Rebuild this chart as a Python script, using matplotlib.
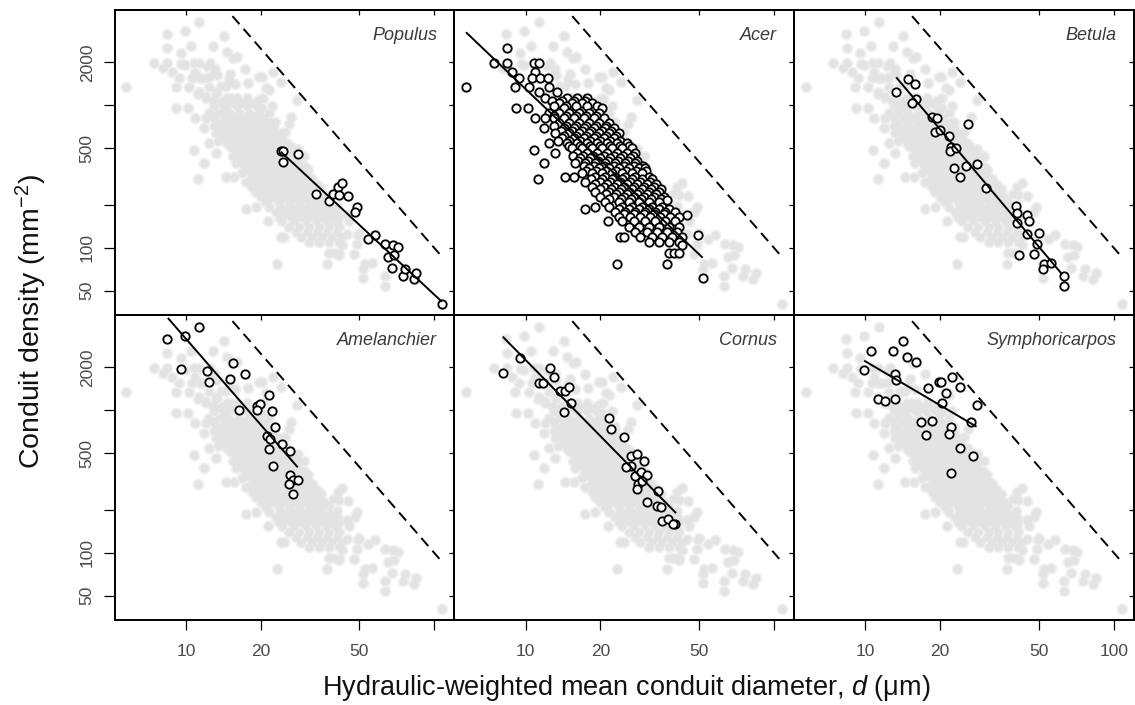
import matplotlib
matplotlib.use("Agg")
import matplotlib.pyplot as plt
from matplotlib.ticker import NullLocator
import numpy as np

plt.rcParams['font.family'] = ['Liberation Sans', 'DejaVu Sans']
plt.rcParams['mathtext.fontset'] = 'custom'
plt.rcParams['mathtext.rm'] = 'Liberation Sans'
plt.rcParams['mathtext.it'] = 'Liberation Sans:italic'

# ---------------- data (d in um, conduit density in mm^-2) ----------------
species = ["Populus", "Acer", "Betula", "Amelanchier", "Cornus", "Symphoricarpos"]

populus_d = [24.1, 24.7, 24.6, 28.2, 33.3, 37.6, 39.3, 40.8, 42.6, 41.3, 44.9, 48.8, 47.8,
             54.1, 57.9, 63.5, 68.2, 71.4, 65.1, 69.2, 67.5, 75.2, 76.4, 82.6, 84.4, 108]
populus_rho = [480, 475, 398, 453, 239, 212, 239, 269, 287, 235, 231, 192, 179,
               115, 123, 106, 104, 101, 86.8, 89.1, 72.6, 63.8, 70.7, 60.8, 67.0, 40.4]

betula_d = [13.25, 14.85, 15.8, 15.95, 15.4, 18.56, 19.4, 19.0, 19.9, 21.7, 22.2, 21.9, 23.1,
            25.9, 25.3, 28.0, 22.7, 24.0, 30.7, 40.5, 40.9, 40.7, 44.9, 45.5, 44.6, 49.9,
            49.0, 47.6, 41.4, 52.4, 56.1, 51.9, 63.1, 63.1]
betula_rho = [1245, 1537, 1409, 1100, 1031, 823, 810, 653, 671, 612, 513, 480, 499,
              735, 377, 389, 361, 314, 261, 197, 175, 149, 170, 153, 126, 128,
              106, 90.6, 88.6, 76.6, 77.9, 70.7, 63.5, 54.3]

amelanchier_d = [8.36, 9.88, 11.3, 9.58, 12.2, 12.4, 15.5, 15.1, 17.3, 16.3, 21.6, 19.3, 19.9,
                 19.3, 22.3, 22.8, 21.2, 21.9, 21.7, 24.4, 26.2, 22.4, 26.2, 27.0, 28.4, 26.0, 27.0]
amelanchier_rho = [3144, 3299, 3836, 1957, 1885, 1587, 2145, 1657, 1796, 1004, 1286, 1077, 1107,
                   1004, 983, 759, 663, 629, 538, 580, 518, 407, 353, 326, 326, 302, 260]

cornus_d = [8.08, 9.52, 11.35, 11.7, 12.5, 12.97, 13.8, 14.45, 14.9, 15.2, 14.3, 21.6, 22.1,
            25.0, 26.5, 28.2, 29.9, 26.6, 25.4, 27.6, 29.2, 30.9, 28.3, 28.0, 29.4, 34.0,
            30.7, 33.8, 35.1, 35.4, 37.3, 40.1, 39.1]
cornus_rho = [1815, 2325, 1561, 1545, 1968, 1720, 1371, 1371, 1464, 1118, 967, 878, 739,
              646, 475, 494, 443, 409, 398, 348, 367, 352, 304, 280, 321, 270,
              229, 212, 209, 166, 173, 159, 159]

symphoricarpos_d = [9.88, 10.5, 12.9, 14.2, 14.7, 16.0, 13.1, 13.3, 11.2, 12.0, 13.2, 17.8, 19.7,
                    20.2, 21.1, 20.4, 22.4, 24.1, 28.1, 26.6, 16.7, 18.5, 17.6, 22.0, 21.6,
                    24.0, 27.1, 22.0]
symphoricarpos_rho = [1916, 2618, 2590, 3076, 2350, 2168, 1796, 1639, 1199, 1155, 1193, 1433, 1570,
                      1570, 1314, 1118, 1702, 1464, 1094, 823, 823, 836, 674, 759, 682,
                      544, 475, 365]

# Acer: many overlapping points, read row by row (density level, diameters on that row)
acer_rho_rows = [2507, 1968, 1720, 1545, 1350, 1245, 1118, 1075, 1031, 990, 951, 878, 843,
                 810, 747, 717, 689, 662, 636, 611, 586, 563, 541, 520, 499, 486, 460,
                 442, 424, 407, 391, 376, 361, 346, 333, 316, 303, 302, 291, 280, 269,
                 258, 248, 238, 229, 220, 217, 211, 194, 186, 186, 179, 172, 170, 165,
                 153, 141, 130, 123, 120, 110, 105, 91.5, 76.6, 61.8]
acer_d_rows = [
    [8.43],
    [7.43, 8.41, 10.77, 11.28],
    [8.81, 10.87],
    [9.37, 10.6, 11.46, 12.3],
    [5.75, 9.09, 10.28, 12.38],
    [11.28, 13.38],
    [12.0, 14.67, 16.1, 17.66],
    [12.8, 14.0, 15.7, 17.3],
    [13.58, 15.37, 16.86, 18.5],
    [13.0, 14.6, 16.0, 17.6, 19.3],
    [9.15, 10.22, 14.22, 20.3],
    [12.38, 13.58, 14.9, 16.35, 17.94, 19.68],
    [13.0, 14.5, 15.9, 17.5, 19.2],
    [10.87, 12.0, 12.97, 14.22, 15.61, 17.13, 18.79, 20.61],
    [13.58, 14.9, 16.35, 17.94, 19.68, 21.6],
    [13.0, 14.5, 16.0, 17.5, 19.2, 21.0],
    [11.82, 14.22, 15.61, 17.13, 18.79, 20.94, 22.62],
    [13.9, 15.3, 16.8, 18.4, 20.2, 22.1],
    [13.17, 14.9, 16.35, 17.94, 19.68, 21.6, 23.69],
    [14.3, 15.9, 17.5, 19.2, 21.0, 23.0],
    [14.01, 15.61, 17.13, 18.79, 20.61, 22.62],
    [13.5, 15.0, 16.6, 18.2, 20.0, 21.9, 24.0],
    [12.38, 14.67, 16.1, 17.66, 19.38, 21.26, 23.33, 25.59],
    [15.0, 16.5, 18.1, 19.9, 21.8, 23.9, 26.0],
    [15.37, 16.86, 18.5, 20.3, 22.27, 24.43, 26.81],
    [10.77],
    [13.17, 16.1, 17.66, 19.38, 21.26, 23.33, 25.59, 27.65],
    [15.5, 17.0, 18.7, 20.6, 22.6, 24.7, 27.0],
    [16.6, 18.22, 19.99, 21.93, 24.06, 26.4],
    [16.2, 17.8, 19.5, 21.4, 23.5, 25.8, 28.2],
    [11.82, 15.85, 17.39, 19.08, 20.94, 22.97, 25.2, 27.65],
    [17.2, 18.8, 20.7, 22.7, 24.9, 27.3, 29.8],
    [17.94, 19.68, 21.6, 23.69, 25.99, 28.51, 30.33],
    [17.5, 19.2, 21.0, 23.1, 25.3, 27.7, 30.4],
    [16.86, 18.5, 20.3, 22.27, 24.43, 26.81, 29.41],
    [14.44, 15.61, 19.08, 20.94, 22.97, 25.2, 27.65, 31.29],
    [18.3, 20.2, 22.2, 24.4, 26.8, 29.4, 32.2],
    [11.21],
    [17.39, 19.99, 21.93, 24.06, 26.4, 28.96, 31.77],
    [19.0, 21.2, 23.3, 25.6, 28.1, 30.8, 33.5],
    [18.5, 20.61, 22.62, 24.81, 27.22, 29.87, 32.77],
    [20.0, 22.1, 24.3, 26.7, 29.3, 32.1, 35.0],
    [19.08, 21.6, 23.69, 25.99, 28.51, 31.29, 34.33],
    [21.0, 23.2, 25.5, 28.0, 30.7, 33.6],
    [19.99, 22.62, 24.81, 27.22, 29.87, 32.77, 35.96],
    [21.6, 24.2, 26.6, 29.2, 32.0, 35.0],
    [37.08],
    [20.94, 23.69, 25.99, 28.51, 31.29, 34.33],
    [19.08, 21.6, 24.43, 26.81, 29.41, 32.27, 35.4],
    [17.39],
    [23.8, 26.1, 28.6, 31.4, 34.4, 37.7],
    [22.97, 25.2, 27.65, 30.33, 33.28, 36.51, 40.06],
    [25.0, 27.4, 30.0, 33.0, 36.2],
    [44.64],
    [23.69, 26.4, 28.96, 31.77, 34.86, 38.25, 41.32],
    [21.39, 24.43, 27.22, 30.33, 33.28, 36.51, 40.06],
    [25.99, 28.51, 31.29, 34.33, 37.66, 41.32],
    [27.65, 30.81, 33.8, 37.08, 40.69],
    [49.43],
    [24.06, 24.81, 28.96, 32.27, 35.4, 38.84, 42.61],
    [31.29, 34.33, 37.66, 41.32],
    [42.61],
    [37.66, 39.45, 41.32],
    [23.33, 37.08],
    [51.77],
]
acer_d = [d for row in acer_d_rows for d in row]
acer_rho = [r for r, row in zip(acer_rho_rows, acer_d_rows) for _ in row]

# fitted lines (end points)
fit_d = {"Populus": [24.1, 107.4], "Acer": [5.75, 51.6], "Betula": [13.3, 62.0],
         "Amelanchier": [8.46, 28.2], "Cornus": [8.08, 40.3], "Symphoricarpos": [9.88, 28.0]}
fit_rho = {"Populus": [472, 41.9], "Acer": [3247, 85.3], "Betula": [1570, 65.0],
           "Amelanchier": [4436, 398], "Cornus": [3282, 190], "Symphoricarpos": [2227, 767]}

# packing limit: one conduit per d^2 (rho = 1e6 / d^2)
limit_d = np.array([15.4, 109.0])
limit_rho = 1e6 / limit_d ** 2

x_ticks = [10, 20, 50, 100]
y_ticks = [50, 100, 200, 500, 1000, 2000]
y_ticklabels = ["50", "100", "", "500", "", "2000"]

data = {
    "Populus": (populus_d, populus_rho),
    "Acer": (acer_d, acer_rho),
    "Betula": (betula_d, betula_rho),
    "Amelanchier": (amelanchier_d, amelanchier_rho),
    "Cornus": (cornus_d, cornus_rho),
    "Symphoricarpos": (symphoricarpos_d, symphoricarpos_rho),
}
all_d = np.concatenate([np.asarray(data[s][0], float) for s in species])
all_rho = np.concatenate([np.asarray(data[s][1], float) for s in species])

# ---------------- layout ----------------
FW, FH = 1135, 705
fig = plt.figure(figsize=(FW / 100, FH / 100), dpi=100)
col_left = [114.5, 454.3, 794.1]
col_w = 339.8
row_top = [10, 315]
row_h = 305
XLIM = (5.158, 120.5)
YLIM = (33.8, 4654)

tick_col = '#4a4a4a'

for i, sp in enumerate(species):
    r, c = divmod(i, 3)
    ax = fig.add_axes([col_left[c] / FW, 1 - (row_top[r] + row_h) / FH, col_w / FW, row_h / FH])
    ax.set_facecolor('none')
    ax.set_xscale('log')
    ax.set_yscale('log')
    ax.set_xlim(*XLIM)
    ax.set_ylim(*YLIM)

    # pooled data as grey background (soft halo + core)
    ax.plot(all_d, all_rho, linestyle='none', marker='o', ms=8.5, mfc='#f0f0f0',
            mec='none', zorder=1)
    ax.plot(all_d, all_rho, linestyle='none', marker='o', ms=6.0, mfc='#e3e3e3',
            mec='none', zorder=1.1)
    # packing limit
    ax.plot(limit_d, limit_rho, color='black', lw=1.4, linestyle=(0, (5.5, 3.2)), zorder=2)
    # species data
    d, rho = data[sp]
    ax.plot(d, rho, linestyle='none', marker='o', ms=6.0, mfc='white', mec='black',
            mew=1.3, zorder=3)
    ax.plot(fit_d[sp], fit_rho[sp], color='black', lw=1.4, zorder=4,
            solid_capstyle='butt')

    ax.text(1 - 17 / col_w, 1 - 30 / row_h, sp, transform=ax.transAxes, ha='right',
            va='baseline', fontsize=13, style='italic', color='#3a3a3a')

    for s in ax.spines.values():
        s.set_linewidth(1.4)

    # main axes: outward ticks only on outer edges
    ax.set_xticks(x_ticks)
    ax.xaxis.set_minor_locator(NullLocator())
    ax.set_yticks(y_ticks)
    ax.yaxis.set_minor_locator(NullLocator())
    if c == 2:
        ax.set_xticklabels(["10", "20", "50", "100"])
    else:
        ax.set_xticklabels(["10", "20", "50", ""])
    ax.set_yticklabels(y_ticklabels, rotation=90, va='center')
    ax.tick_params(axis='x', direction='out', length=7.5, width=0.9, pad=10,
                   labelsize=12.5, labelcolor=tick_col,
                   bottom=(r == 1), labelbottom=(r == 1), top=False)
    ax.tick_params(axis='y', direction='out', length=7.8, width=0.9, pad=6.5,
                   labelsize=12.5, labelcolor=tick_col,
                   left=(c == 0), labelleft=(c == 0), right=False)

    # inward ticks on top and right
    secx = ax.secondary_xaxis('top')
    secx.set_xticks(x_ticks)
    secx.xaxis.set_minor_locator(NullLocator())
    secx.tick_params(axis='x', which='both', direction='in', length=3.8, width=0.9,
                     labeltop=False)
    secx.spines['top'].set_linewidth(1.4)
    secy = ax.secondary_yaxis('right')
    secy.set_yticks(y_ticks)
    secy.yaxis.set_minor_locator(NullLocator())
    secy.tick_params(axis='y', which='both', direction='in', length=3.8, width=0.9,
                     labelright=False)
    secy.spines['right'].set_linewidth(1.4)

fig.text(626 / FW, 1 - 695 / FH,
         r"Hydraulic-weighted mean conduit diameter, $\mathit{d}$ (μm)",
         ha='center', va='baseline', fontsize=19.5, color='#111111')
fig.text(31 / FW, 1 - 322 / FH, r"Conduit density (mm$^{-2}$)", rotation=90,
         ha='center', va='center', fontsize=20.5, color='#111111')

fig.savefig("out.png", dpi=100)
